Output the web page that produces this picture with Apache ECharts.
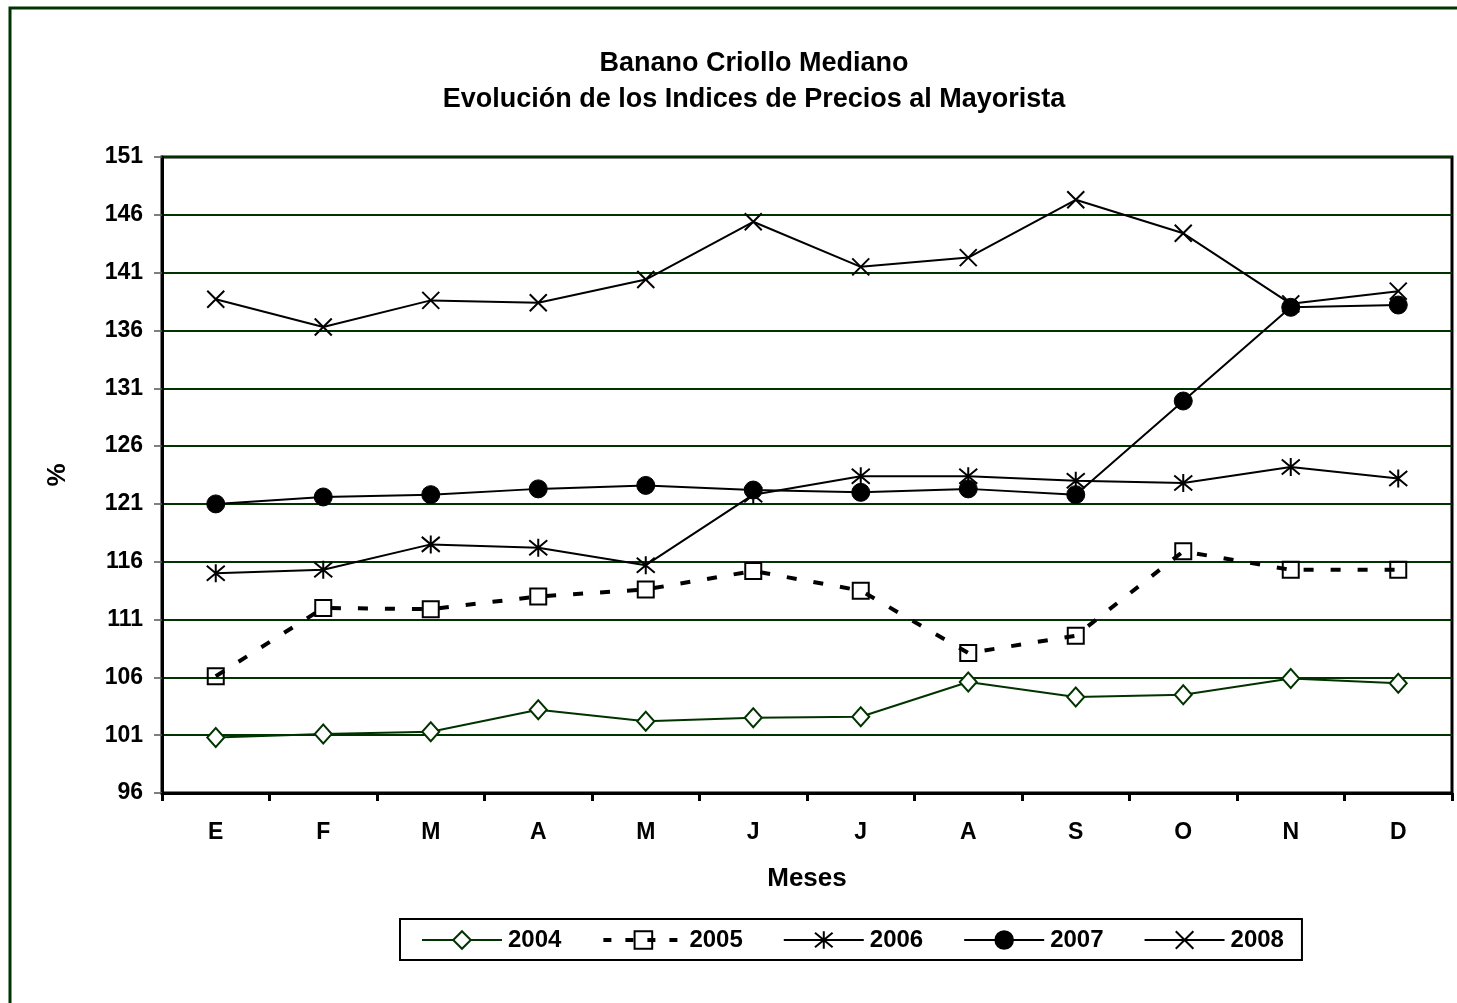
<!DOCTYPE html>
<html>
<head>
<meta charset="utf-8">
<title>Banano Criollo Mediano</title>
<script src="https://cdn.jsdelivr.net/npm/echarts@6/dist/echarts.min.js"></script>
<style>
  html, body { margin: 0; padding: 0; background: #fff; }
  #chart { width: 1457px; height: 1003px; }
</style>
</head>
<body>
<div id="chart"></div>
<script>
  const months = ['E', 'F', 'M', 'A', 'M', 'J', 'J', 'A', 'S', 'O', 'N', 'D']
  const years = ['2004', '2005', '2006', '2007', '2008']

  const idx2004 = [100.8, 101.1, 101.3, 103.2, 102.2, 102.5, 102.6, 105.6, 104.3, 104.5, 105.9, 105.5]
  const idx2005 = [106.1, 112.0, 111.9, 113.0, 113.6, 115.2, 113.5, 108.1, 109.6, 116.9, 115.3, 115.3]
  const idx2006 = [115.0, 115.3, 117.5, 117.2, 115.7, 121.8, 123.4, 123.4, 123.0, 122.8, 124.2, 123.2]
  const idx2007 = [121.0, 121.6, 121.8, 122.3, 122.6, 122.2, 122.0, 122.3, 121.8, 129.9, 138.0, 138.2]
  const idx2008 = [138.7, 136.3, 138.6, 138.4, 140.4, 145.4, 141.5, 142.3, 147.3, 144.4, 138.3, 139.4]

  const yMin = 96
  const yMax = 151
  const yStep = 5

  const font = "'Liberation Sans', Arial, sans-serif"
  const green = '#003300'

  // excel style markers
  const asterisk = 'path://M0,0L10,10M10,0L0,10M5,-1L5,11'
  const cross = 'path://M0,0L10,10M10,0L0,10'

  const chart = echarts.init(document.getElementById('chart'))

  const option = {
    animation: false,
    backgroundColor: '#fff',
    textStyle: { fontFamily: font },
    graphic: [{
      type: 'rect',
      z: -10,
      shape: { x: 10, y: 8, width: 1600, height: 1200 },
      style: { fill: 'none', stroke: green, lineWidth: 3 }
    }],
    title: {
      text: 'Banano Criollo Mediano\nEvolución de los Indices de Precios al Mayorista',
      left: 749,
      top: 41,
      textAlign: 'center',
      textStyle: {
        fontFamily: font,
        fontSize: 27,
        fontWeight: 'bold',
        color: '#000',
        lineHeight: 36
      }
    },
    legend: {
      data: [
        '2004',
        { name: '2005', lineStyle: { width: 4, type: [8, 14] } },
        '2006',
        '2007',
        '2008'
      ],
      left: 400,
      top: 919,
      orient: 'horizontal',
      padding: [9, 18, 8, 21],
      itemWidth: 80,
      itemHeight: 22,
      itemGap: 40,
      borderColor: '#000',
      borderWidth: 2,
      textStyle: {
        fontFamily: font,
        fontSize: 24,
        fontWeight: 'bold',
        color: '#000',
        padding: [0, 0, 0, 1]
      }
    },
    grid: {
      left: 162,
      right: 5,
      top: 157,
      bottom: 210,
      show: true,
      borderColor: '#000',
      borderWidth: 3
    },
    xAxis: {
      type: 'category',
      data: months,
      boundaryGap: true,
      name: 'Meses',
      nameLocation: 'middle',
      nameGap: 73,
      nameTextStyle: { fontFamily: font, fontSize: 26, fontWeight: 'bold', color: '#000' },
      axisLine: { lineStyle: { color: '#000', width: 3 } },
      axisTick: { show: true, length: 8, lineStyle: { color: '#000', width: 3 } },
      axisLabel: { margin: 28, fontFamily: font, fontSize: 23, fontWeight: 'bold', color: '#000' },
      splitLine: { show: false }
    },
    yAxis: {
      type: 'value',
      min: yMin,
      max: yMax,
      interval: yStep,
      name: '%',
      nameLocation: 'middle',
      nameRotate: 90,
      nameGap: 91,
      nameTextStyle: { fontFamily: font, fontSize: 26, fontWeight: 'bold', color: '#000' },
      axisLine: { show: true, lineStyle: { color: '#000', width: 3 } },
      axisTick: { show: true, length: 8, lineStyle: { color: '#555', width: 1.5 } },
      axisLabel: { margin: 19, fontFamily: font, fontSize: 23, fontWeight: 'bold', color: '#000' },
      splitLine: { show: true, lineStyle: { color: green, width: 2 } }
    },
    series: [
      {
        name: '2004',
        type: 'line',
        data: idx2004,
        symbol: 'diamond',
        symbolSize: [17, 19],
        lineStyle: { color: green, width: 2 },
        itemStyle: { color: '#fff', borderColor: green, borderWidth: 2 }
      },
      {
        name: '2005',
        type: 'line',
        data: idx2005,
        symbol: 'rect',
        symbolSize: 16,
        lineStyle: { color: '#000', width: 4, type: [10, 17] },
        itemStyle: { color: 'transparent', borderColor: '#000', borderWidth: 2 }
      },
      {
        name: '2006',
        type: 'line',
        data: idx2006,
        symbol: asterisk,
        symbolSize: 18,
        lineStyle: { color: '#000', width: 2 },
        itemStyle: { color: 'transparent', borderColor: '#000', borderWidth: 2 }
      },
      {
        name: '2007',
        type: 'line',
        data: idx2007,
        symbol: 'circle',
        symbolSize: 18,
        lineStyle: { color: '#000', width: 2 },
        itemStyle: { color: '#000', borderColor: '#000', borderWidth: 1 }
      },
      {
        name: '2008',
        type: 'line',
        data: idx2008,
        symbol: cross,
        symbolSize: 17,
        lineStyle: { color: '#000', width: 2 },
        itemStyle: { color: 'transparent', borderColor: '#000', borderWidth: 2 }
      }
    ]
  }

  chart.setOption(option)
</script>
</body>
</html>
